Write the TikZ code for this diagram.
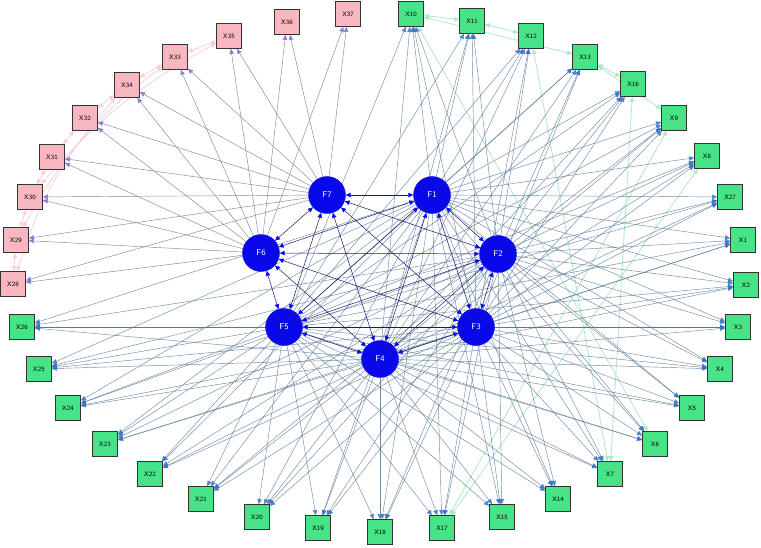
\documentclass[tikz,border=0pt]{standalone}
\usetikzlibrary{arrows.meta,backgrounds}
\definecolor{gfill}{RGB}{70,228,135}
\definecolor{pfill}{RGB}{248,182,192}
\definecolor{fblue}{RGB}{8,8,232}
\definecolor{lineg}{RGB}{85,118,148}
\definecolor{tipb}{RGB}{55,115,195}
\definecolor{linep}{RGB}{110,110,140}
\definecolor{tipp}{RGB}{125,110,205}
\definecolor{resg}{RGB}{175,232,200}
\definecolor{resp}{RGB}{245,208,220}
\definecolor{ffline}{RGB}{25,25,110}
\tikzset{
  xg/.style={draw=black!80,line width=0.8pt,fill=gfill,minimum size=25pt,inner sep=0pt,font=\sffamily\fontsize{6.5}{7}\selectfont},
  xp/.style={xg,fill=pfill},
  fc/.style={circle,fill=fblue,draw=fblue,minimum size=37pt,inner sep=0pt,text=white,font=\sffamily\fontsize{8.5}{9}\selectfont},
  loadg/.style={draw=lineg,line width=0.45pt,opacity=0.85,-{Triangle[length=5pt,width=4.5pt,color=tipb]}},
  loadp/.style={draw=linep,line width=0.45pt,opacity=0.85,-{Triangle[length=5pt,width=4.5pt,color=tipp]}},
  corrf/.style={draw=ffline,line width=0.5pt,{Triangle[length=5pt,width=4.5pt,color=fblue]}-{Triangle[length=5pt,width=4.5pt,color=fblue]}},
  resgr/.style={draw=resg,line width=0.8pt,{Triangle[length=5pt,width=4.5pt]}-{Triangle[length=5pt,width=4.5pt]}},
  respk/.style={draw=resp,line width=0.8pt,{Triangle[length=5pt,width=4.5pt]}-{Triangle[length=5pt,width=4.5pt]}},
}
\begin{document}
\begin{tikzpicture}[x=1pt,y=-1pt]
\useasboundingbox (0,0) rectangle (761,547);
% factor nodes
\node[fc] (F7) at (327,195) {F7};
\node[fc] (F1) at (432,195) {F1};
\node[fc] (F6) at (261,253) {F6};
\node[fc] (F2) at (498,254) {F2};
\node[fc] (F5) at (284,327) {F5};
\node[fc] (F3) at (476,327) {F3};
\node[fc] (F4) at (380,359) {F4};
% pink items
\node[xp] (X37) at (348,14) {X37};
\node[xp] (X36) at (287,22) {X36};
\node[xp] (X35) at (229,36) {X35};
\node[xp] (X33) at (175,57) {X33};
\node[xp] (X34) at (127,85) {X34};
\node[xp] (X32) at (85,118) {X32};
\node[xp] (X31) at (52,157) {X31};
\node[xp] (X30) at (30,197) {X30};
\node[xp] (X29) at (16,240) {X29};
\node[xp] (X28) at (13,284) {X28};
% green items
\node[xg] (X10) at (411,14) {X10};
\node[xg] (X11) at (472,21) {X11};
\node[xg] (X12) at (531,36) {X12};
\node[xg] (X13) at (585,57) {X13};
\node[xg] (X16) at (633,84) {X16};
\node[xg] (X9) at (674,118) {X9};
\node[xg] (X8) at (707,156) {X8};
\node[xg] (X27) at (730,197) {X27};
\node[xg] (X1) at (743,240) {X1};
\node[xg] (X2) at (746,285) {X2};
\node[xg] (X3) at (738,327) {X3};
\node[xg] (X4) at (720,369) {X4};
\node[xg] (X5) at (692,408) {X5};
\node[xg] (X6) at (655,444) {X6};
\node[xg] (X7) at (610,474) {X7};
\node[xg] (X14) at (558,499) {X14};
\node[xg] (X15) at (502,517) {X15};
\node[xg] (X17) at (442,528) {X17};
\node[xg] (X18) at (380,532) {X18};
\node[xg] (X19) at (318,528) {X19};
\node[xg] (X20) at (257,517) {X20};
\node[xg] (X21) at (201,499) {X21};
\node[xg] (X22) at (150,474) {X22};
\node[xg] (X23) at (105,444) {X23};
\node[xg] (X24) at (68,408) {X24};
\node[xg] (X25) at (39,369) {X25};
\node[xg] (X26) at (22,327) {X26};
\begin{pgfonlayer}{background}
% residual covariances
\draw[resgr] (X10) -- (X11);
\draw[resgr] (X11) -- (X12);
\draw[resgr] (X10) -- (X13);
\draw[resgr] (X13) -- (X16);
\draw[resgr] (X13) -- (X9);
\draw[resgr] (X10) -- (X6);
\draw[resgr] (X12) -- (X7);
\draw[resgr] (X9) -- (X17);
\draw[resgr] (X8) -- (X17);
\draw[resgr] (X16) -- (X7);
\draw[respk] (X28) -- (X29);
\draw[respk] (X29) -- (X30);
\draw[respk] (X30) -- (X31);
\draw[respk] (X31) -- (X32);
\draw[respk] (X32) -- (X34);
\draw[respk] (X34) -- (X33);
\draw[respk] (X33) -- (X35);
\draw[respk] (X28) to[bend left=12] (X34);
\draw[respk] (X29) to[bend left=12] (X33);
\draw[respk] (X30) to[bend left=10] (X35);
% loadings
\foreach \f in {1,2,3,4,5}{
  \foreach \x in {1,...,27}{
    \draw[loadg] (F\f) -- (X\x);
  }
}
\foreach \f in {6,7}{
  \foreach \x in {28,...,37}{
    \draw[loadp] (F\f) -- (X\x);
  }
}
% factor correlations
\foreach \a/\b in {1/2,1/3,1/4,1/5,1/6,1/7,2/3,2/4,2/5,2/6,2/7,3/4,3/5,3/6,3/7,4/5,4/6,4/7,5/6,5/7,6/7}{
  \draw[corrf] (F\a) -- (F\b);
}
\end{pgfonlayer}
\end{tikzpicture}
\end{document}
